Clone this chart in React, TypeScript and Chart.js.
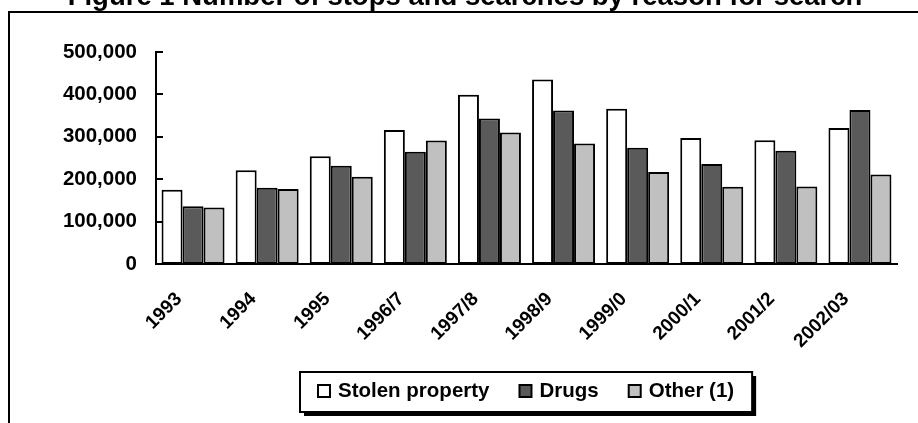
import React, { useEffect, useRef } from 'react';
import { Chart, registerables } from 'chart.js';

Chart.register(...registerables);

const titleText = 'Figure 1 Number of stops and searches by reason for search';
const categories = ['1993', '1994', '1995', '1996/7', '1997/8', '1998/9', '1999/0', '2000/1', '2001/2', '2002/03'];
const seriesNames = ['Stolen property', 'Drugs', 'Other (1)'];
const stolenProperty = [175000, 221000, 254000, 316000, 399000, 435000, 366000, 297000, 292000, 321000];
const drugs = [136000, 180000, 232000, 265000, 343000, 362000, 274000, 236000, 267000, 363000];
const other = [133000, 177000, 206000, 291000, 310000, 284000, 217000, 182000, 183000, 211000];
const seriesColors = ['#ffffff', '#5a5a5a', '#c0c0c0'];
const yMax = 500000;
const yStep = 100000;

const FONT = '"Liberation Sans", Arial, sans-serif';

const decorPlugin = {
  id: 'decor',
  afterDatasetsDraw(chart: any) {
    const { ctx, chartArea } = chart;
    const y = chart.scales.y;
    ctx.save();
    ctx.strokeStyle = '#000';
    ctx.lineWidth = 2;
    const vals: number[] = [];
    for (let v = 0; v <= yMax; v += yStep) vals.push(v);
    vals.forEach((v) => {
      const py = Math.round(y.getPixelForValue(v));
      ctx.beginPath();
      ctx.moveTo(chartArea.left, py);
      ctx.lineTo(chartArea.left + 7, py);
      ctx.stroke();
    });
    ctx.restore();
  },
  afterDraw(chart: any) {
    const { ctx, chartArea, width, height } = chart;
    ctx.save();
    // outer frame (left and top edges visible)
    ctx.strokeStyle = '#000';
    ctx.lineWidth = 2;
    ctx.beginPath();
    ctx.moveTo(9, height + 2);
    ctx.lineTo(9, 12);
    ctx.lineTo(width + 2, 12);
    ctx.stroke();

    // title (mostly cropped above the top edge)
    ctx.fillStyle = '#000';
    ctx.font = `bold 27.5px ${FONT}`;
    ctx.textAlign = 'center';
    ctx.textBaseline = 'alphabetic';
    ctx.fillText(titleText, 465, 5);

    // legend
    ctx.font = `bold 20.5px ${FONT}`;
    ctx.textBaseline = 'middle';
    ctx.textAlign = 'left';
    const sq = 12;
    const gapText = 8;
    const gapItem = 30;
    const widths = chart.data.datasets.map((d: any) => ctx.measureText(d.label).width);
    let total = 0;
    widths.forEach((w: number, i: number) => {
      total += sq + gapText + w + (i < widths.length - 1 ? gapItem : 0);
    });
    const boxW = total + 36;
    const boxH = 40;
    const cx = (chartArea.left + chartArea.right) / 2;
    const bx = Math.round(cx - boxW / 2);
    const by = 372;
    ctx.fillStyle = '#000';
    ctx.fillRect(bx + 4, by + 4, boxW, boxH);
    ctx.fillStyle = '#fff';
    ctx.fillRect(bx, by, boxW, boxH);
    ctx.strokeStyle = '#000';
    ctx.lineWidth = 2;
    ctx.strokeRect(bx, by, boxW, boxH);
    let x = bx + 18;
    const cy = by + 19;
    chart.data.datasets.forEach((d: any, i: number) => {
      ctx.fillStyle = d.backgroundColor;
      ctx.fillRect(x, cy - sq / 2, sq, sq);
      ctx.lineWidth = 2;
      ctx.strokeStyle = '#000';
      ctx.strokeRect(x, cy - sq / 2, sq, sq);
      x += sq + gapText;
      ctx.fillStyle = '#000';
      ctx.fillText(d.label, x, cy);
      x += widths[i] + gapItem;
    });
    ctx.restore();
  },
};

export default function App() {
  const ref = useRef<HTMLCanvasElement | null>(null);

  useEffect(() => {
    if (!ref.current) return;
    const series = [stolenProperty, drugs, other];
    const chart = new Chart(ref.current, {
      type: 'bar',
      data: {
        labels: categories,
        datasets: series.map((s, i) => ({
          label: seriesNames[i],
          data: s,
          backgroundColor: seriesColors[i],
          borderColor: '#000',
          borderWidth: 2,
          borderSkipped: false,
          categoryPercentage: 0.85,
          barPercentage: 1,
        })),
      },
      options: {
        responsive: false,
        animation: false,
        layout: { padding: { top: 52, right: 21, left: 0, bottom: 0 } },
        plugins: {
          legend: { display: false },
          title: { display: false },
          tooltip: { enabled: false },
        },
        scales: {
          x: {
            grid: { display: false, drawTicks: false },
            border: { display: true, color: '#000', width: 2 },
            ticks: {
              color: '#000',
              font: { family: FONT, size: 19, weight: 'bold' },
              minRotation: 45,
              maxRotation: 45,
              padding: 24,
              labelOffset: -14,
              autoSkip: false,
            },
            afterFit: (scale: any) => {
              scale.height = 423 - 264;
            },
          },
          y: {
            min: 0,
            max: yMax,
            grid: { display: false, drawTicks: false },
            border: { display: true, color: '#000', width: 2 },
            ticks: {
              stepSize: yStep,
              color: '#000',
              padding: 19,
              font: { family: FONT, size: 20.5, weight: 'bold' },
              callback: (v: any) => Number(v).toLocaleString('en-US'),
            },
            afterFit: (scale: any) => {
              scale.width = 156;
            },
          },
        },
      },
      plugins: [decorPlugin],
    });
    return () => chart.destroy();
  }, []);

  return (
    <div style={{ position: 'absolute', left: 0, top: 0, width: 918, height: 423, background: '#fff' }}>
      <canvas ref={ref} width={918} height={423} style={{ display: 'block' }} />
    </div>
  );
}
